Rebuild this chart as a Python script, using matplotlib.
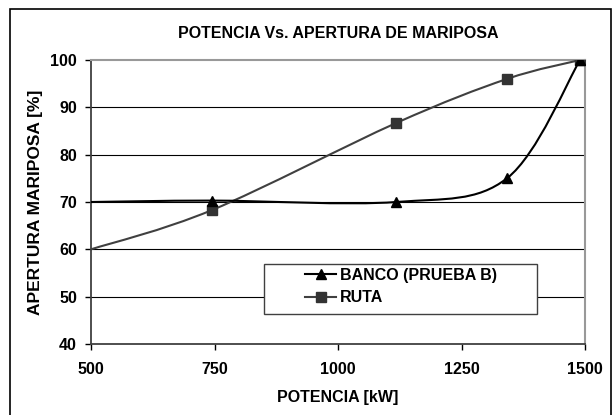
import matplotlib.pyplot as plt
from matplotlib.path import Path
from matplotlib.patches import PathPatch, Rectangle
from matplotlib.lines import Line2D

plt.rcParams['font.family'] = ['Liberation Sans', 'DejaVu Sans']
plt.rcParams['font.weight'] = 'bold'

# data
banco_x = [500, 745, 1118, 1342, 1490]
banco_y = [70, 70.3, 70, 75, 100]
ruta_x = [500, 745, 1118, 1342, 1490]
ruta_y = [60, 68.3, 86.7, 96, 100]
x_ticks = [500, 750, 1000, 1250, 1500]
y_ticks = [40, 50, 60, 70, 80, 90, 100]


def smooth_path(xs, ys):
    # excel-like smoothed line: cubic bezier through every point
    pts = list(zip(xs, ys))
    ext = [pts[0]] + pts + [pts[-1]]
    verts = [pts[0]]
    codes = [Path.MOVETO]
    for i in range(1, len(ext) - 2):
        p0, p1, p2, p3 = ext[i - 1], ext[i], ext[i + 1], ext[i + 2]
        c1 = (p1[0] + (p2[0] - p0[0]) / 6, p1[1] + (p2[1] - p0[1]) / 6)
        c2 = (p2[0] - (p3[0] - p1[0]) / 6, p2[1] - (p3[1] - p1[1]) / 6)
        verts += [c1, c2, p2]
        codes += [Path.CURVE4] * 3
    return Path(verts, codes)


W, H = 613, 415
AX_L, AX_R, AX_T, AX_B = 91, 585, 60, 344
fig = plt.figure(figsize=(W / 100, H / 100), dpi=100)
ax = fig.add_axes([AX_L / W, 1 - AX_B / H, (AX_R - AX_L) / W, (AX_B - AX_T) / H])


def ax_x(px):
    return (px - AX_L) / (AX_R - AX_L)


def ax_y(py):
    return (AX_B - py) / (AX_B - AX_T)


# outer frame of the chart object
fig.patches.append(Rectangle((10 / W, -0.05), (611 - 10) / W, 1.05 - 9 / H,
                             transform=fig.transFigure, fill=False,
                             edgecolor='black', lw=1.2))

for y in y_ticks[1:-1]:
    ax.axhline(y, color='black', lw=0.8, zorder=1)

ax.add_patch(PathPatch(smooth_path(ruta_x, ruta_y), fill=False,
                       edgecolor='#404040', lw=1.5, zorder=3))
ax.add_patch(PathPatch(smooth_path(banco_x, banco_y), fill=False,
                       edgecolor='black', lw=1.5, zorder=3))
ax.plot(ruta_x[1:], ruta_y[1:], ls='none', marker='s', ms=7.5,
        color='#333333', zorder=4)
ax.plot(banco_x[1:], banco_y[1:], ls='none', marker='^', ms=7.5,
        color='black', zorder=5)

ax.set_xlim(500, 1500)
ax.set_ylim(40, 100)
ax.set_xticks(x_ticks)
ax.set_yticks(y_ticks)
ax.tick_params(direction='out', length=4, width=1, labelsize=11.5)
ax.tick_params(axis='x', pad=9)
ax.tick_params(axis='y', pad=6)
for s in ['left', 'bottom']:
    ax.spines[s].set_color('#404040')
    ax.spines[s].set_linewidth(1.3)
for s in ['top', 'right']:
    ax.spines[s].set_color('#999999')
    ax.spines[s].set_linewidth(1.5)

ax.set_title('POTENCIA Vs. APERTURA DE MARIPOSA', fontsize=11.5,
             fontweight='bold', pad=16)
ax.set_xlabel('POTENCIA [kW]', fontsize=11.5, fontweight='bold', labelpad=9)
ax.set_ylabel('APERTURA MARIPOSA [%]', fontsize=12.5, fontweight='bold', labelpad=5)

# legend box drawn separately (excel leaves a wide left margin)
ax.add_patch(Rectangle((ax_x(264), ax_y(314)), ax_x(537) - ax_x(264),
                       ax_y(264) - ax_y(314), transform=ax.transAxes,
                       facecolor='white', edgecolor='#404040', lw=1.0,
                       zorder=6))
handles = [Line2D([], [], color='black', lw=1.5, marker='^', ms=7.5),
           Line2D([], [], color='#404040', lw=1.5, marker='s', ms=7.5,
                  markerfacecolor='#333333', markeredgecolor='#333333')]
leg = ax.legend(handles, ['BANCO (PRUEBA B)', 'RUTA'], loc='upper left',
                bbox_to_anchor=(ax_x(305), ax_y(268)), frameon=False,
                prop={'size': 11.5, 'weight': 'bold'}, handlelength=1.95,
                handletextpad=0.25, borderpad=0, labelspacing=0.45,
                borderaxespad=0)
leg.set_zorder(7)

fig.savefig('out.png', dpi=100)
